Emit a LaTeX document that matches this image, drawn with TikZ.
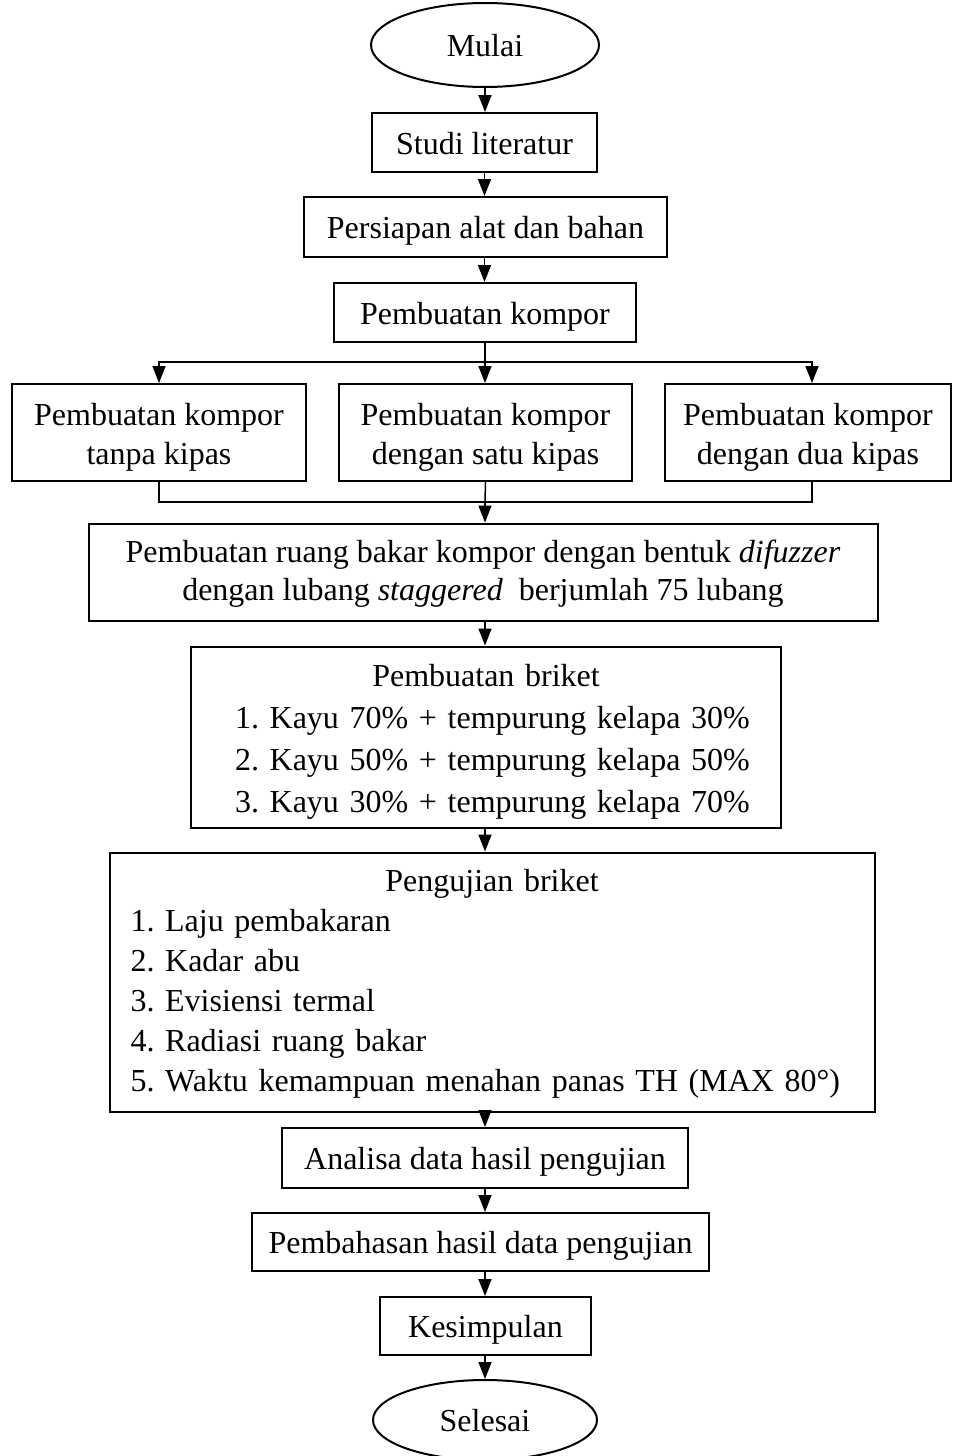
\documentclass[tikz,border=0pt]{standalone}
\usepackage{fontspec}
\setmainfont{Liberation Serif}
\usetikzlibrary{arrows.meta,shapes.geometric,calc}
\begin{document}
\frenchspacing
\begin{tikzpicture}[x=1pt,y=-1pt,
  box/.style={draw,line width=2pt,rectangle,inner sep=0pt,font=\fontsize{32}{39}\selectfont,align=center},
  one/.style={text height=23pt,text depth=0pt},
  term/.style={draw,line width=2pt,ellipse,inner sep=0pt,font=\fontsize{32}{39}\selectfont,text height=23pt,text depth=0pt},
  arr/.style={line width=1.5pt,-{Triangle[width=13pt,length=17pt]}},
  con/.style={line width=1.5pt}]
\useasboundingbox (0,0) rectangle (954,1456);
\node[term,minimum width=228,minimum height=84] (mulai) at (485,45) {Mulai};
\node[box,one,minimum width=225,minimum height=59] (studi) at (484.5,142.5) {Studi literatur};
\node[box,one,minimum width=363,minimum height=60] (persiapan) at (485.5,227) {Persiapan alat dan bahan};
\node[box,one,minimum width=302,minimum height=59] (kompor) at (485,312.5) {Pembuatan kompor};
\node[box,minimum width=294,minimum height=97] (tanpa) at (159,432.5)
  {\rule{0pt}{35pt}Pembuatan kompor\\tanpa kipas\rule[-10pt]{0pt}{10pt}};
\node[box,minimum width=293,minimum height=97] (satu) at (485.5,432.5)
  {\rule{0pt}{35pt}Pembuatan kompor\\dengan satu kipas\rule[-10pt]{0pt}{10pt}};
\node[box,minimum width=286,minimum height=97] (dua) at (808,432.5)
  {\rule{0pt}{35pt}Pembuatan kompor\\dengan dua kipas\rule[-10pt]{0pt}{10pt}};
\node[box,minimum width=789,minimum height=97,font=\fontsize{32}{38}\selectfont] (ruang) at (483,572)
  {\rule{0pt}{28pt}Pembuatan ruang bakar kompor dengan bentuk \textit{difuzzer}\\dengan lubang \textit{staggered}\ \ berjumlah 75 lubang\rule[-10pt]{0pt}{10pt}};
\node[box,minimum height=181,text width=590,align=left,font=\fontsize{32}{42}\selectfont] (briket) at (486,737)
  {\rule{0pt}{34pt}\makebox[\linewidth]{Pembuatan briket}\\
   \makebox[\linewidth][l]{\hspace*{44pt}1. Kayu 70\% + tempurung kelapa 30\%}\\
   \makebox[\linewidth][l]{\hspace*{44pt}2. Kayu 50\% + tempurung kelapa 50\%}\\
   \rule[-10pt]{0pt}{10pt}\makebox[\linewidth][l]{\hspace*{44pt}3. Kayu 30\% + tempurung kelapa 70\%}};
\node[box,minimum height=259,text width=765,align=left,font=\fontsize{32}{40}\selectfont] (uji) at (492,982)
  {\rule{0pt}{29.4pt}\makebox[\linewidth]{Pengujian briket}\\
   \makebox[\linewidth][l]{\hspace*{21pt}1. Laju pembakaran}\\
   \makebox[\linewidth][l]{\hspace*{21pt}2. Kadar abu}\\
   \makebox[\linewidth][l]{\hspace*{21pt}3. Evisiensi termal}\\
   \makebox[\linewidth][l]{\hspace*{21pt}4. Radiasi ruang bakar}\\
   \rule[-10pt]{0pt}{10pt}\makebox[\linewidth][l]{\hspace*{21pt}5. Waktu kemampuan menahan panas TH (MAX 80°)}};
\node[box,one,minimum width=406,minimum height=60] (analisa) at (485,1158) {Analisa data hasil pengujian};
\node[box,one,minimum width=457,minimum height=58] (bahas) at (480.5,1242) {Pembahasan hasil data pengujian};
\node[box,one,minimum width=211,minimum height=58] (simpul) at (485.5,1326) {Kesimpulan};
\node[term,minimum width=224,minimum height=80] (selesai) at (485,1420) {Selesai};
\coordinate (sp) at (485,362);
\coordinate (mg) at (485,502);
\draw[arr] (mulai.south) -- (mulai.south |- studi.north);
\draw[arr] (studi.south) -- (studi.south |- persiapan.north);
\draw[arr] (persiapan.south -| studi.south) -- (studi.south |- kompor.north);
\draw[arr] (kompor.south) -- (kompor.south |- satu.north);
\draw[arr] (sp) -| (tanpa.north);
\draw[arr] (sp) -| ($(dua.north)+(4,0)$);
\draw[con] (tanpa.south) |- (mg);
\draw[con] ($(dua.south)+(4,0)$) |- (mg);
\draw[con] (satu.south) -- (mg);
\draw[arr] (mg) -- (mg |- ruang.north);
\draw[arr] (mg |- ruang.south) -- (mg |- briket.north);
\draw[arr] (mg |- briket.south) -- (mg |- uji.north);
\draw[arr] (mg |- uji.south) -- (mg |- analisa.north);
\draw[arr] (mg |- analisa.south) -- (mg |- bahas.north);
\draw[arr] (mg |- bahas.south) -- (mg |- simpul.north);
\draw[arr] (mg |- simpul.south) -- (mg |- selesai.north);
\end{tikzpicture}
\end{document}
